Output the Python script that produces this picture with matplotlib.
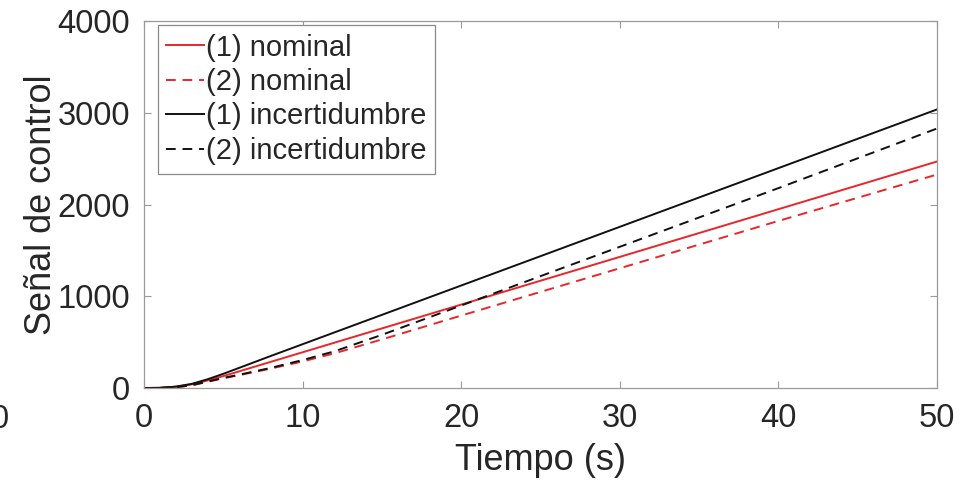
import numpy as np
import matplotlib.pyplot as plt

plt.rcParams['font.family'] = ['Liberation Sans', 'DejaVu Sans']

# tiempo (s)
tiempo = [0, 1, 2, 3, 4, 5, 6, 8, 10, 12, 15, 20, 25, 30, 35, 40, 45, 50]

# señal de control
nominal_1 = [0, 2, 14, 40, 82, 130, 182, 286, 390, 494, 650, 910, 1170, 1430, 1690, 1950, 2210, 2470]
nominal_2 = [0, 1, 8, 30, 68, 106, 140, 212, 290, 378, 530, 790, 1048, 1306, 1564, 1822, 2075, 2328]
incert_1 = [0, 2, 15, 45, 95, 155, 220, 350, 478, 606, 798, 1118, 1438, 1758, 2078, 2398, 2718, 3038]
incert_2 = [0, 1, 8, 30, 70, 110, 145, 220, 305, 400, 580, 900, 1220, 1540, 1860, 2180, 2505, 2830]

etiquetas = ["(1) nominal", "(2) nominal", "(1) incertidumbre", "(2) incertidumbre"]

rojo = '#e8262b'
negro = '#111111'
guiones = (5, 3.5)

fig = plt.figure(figsize=(9.67, 4.82), dpi=100)
ax = fig.add_axes([0.149, 0.195, 0.82, 0.761])

ax.plot(tiempo, nominal_1, '-', color=rojo, lw=1.4, label=etiquetas[0])
ax.plot(tiempo, nominal_2, '--', color=rojo, lw=1.4, dashes=guiones, label=etiquetas[1])
ax.plot(tiempo, incert_1, '-', color=negro, lw=1.4, label=etiquetas[2])
ax.plot(tiempo, incert_2, '--', color=negro, lw=1.4, dashes=guiones, label=etiquetas[3])

ax.set_xlim(0, 50)
ax.set_ylim(0, 4000)
ax.set_xticks([0, 10, 20, 30, 40, 50])
ax.set_yticks([0, 1000, 2000, 3000, 4000])

for s in ax.spines.values():
    s.set_color('#9a9a9a')
    s.set_linewidth(0.9)
ax.tick_params(direction='in', which='both', top=True, right=True, length=5,
               width=0.8, color='#9a9a9a', labelsize=23.5, labelcolor='#262626')
ax.tick_params(axis='x', pad=11)
ax.tick_params(axis='y', pad=10)

ax.set_xlabel("Tiempo (s)", fontsize=26, color='#262626', labelpad=6)
ax.set_ylabel("Señal de control", fontsize=26, color='#262626', labelpad=-1)

leg = ax.legend(loc='upper left', bbox_to_anchor=(0.017, 0.99), borderaxespad=0,
                fontsize=21, handlelength=1.3, handletextpad=0.05,
                labelspacing=0.22, borderpad=0.3,
                fancybox=False, framealpha=1, labelcolor='#262626')
leg.get_frame().set_edgecolor('#8a8a8a')
leg.get_frame().set_linewidth(0.9)

# resto de la figura vecina, recortada
fig.text(0.0, 0.13, "0", fontsize=23.5, color='#262626', ha='center', va='center')

fig.savefig("out.png", dpi=100)
